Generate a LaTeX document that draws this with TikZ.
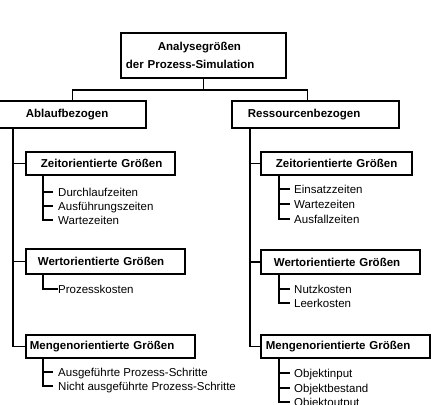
\documentclass[tikz,border=0pt]{standalone}
\usepackage{fontspec}
\setmainfont{Liberation Sans}
\usepackage{tikz}
\usetikzlibrary{calc}

\begin{document}
\begin{tikzpicture}[
    x=1pt, y=-1pt,
    font=\fontsize{11.5}{14}\selectfont,
    box/.style={draw, line width=1.8pt, anchor=north west, inner xsep=0pt,
                inner ysep=0pt, minimum height=23pt, align=left,
                font=\fontsize{11.5}{14}\selectfont\bfseries},
    item/.style={anchor=west, inner sep=0pt, text height=8.2pt, text depth=0pt},
    conn/.style={line width=1.8pt}
    ]
    \useasboundingbox (0,0) rectangle (432,405);
    \clip (0,0) rectangle (432,405);

    \node[box, text width=165pt, minimum height=45pt] (top) at (120,32)
      {\hspace*{37pt}Analysegrößen\\[4pt]\hspace*{5pt}der Prozess-Simulation};
    \node[box, text width=147pt, minimum height=27pt] (abl) at (-2,100)
      {\hspace*{27pt}Ablaufbezogen};
    \node[box, text width=167pt, minimum height=27pt] (res) at (231,100)
      {\hspace*{16pt}Ressourcenbezogen};

    % Ablaufbezogen
    \node[box, text width=149pt] (zl) at (25,151) {\hspace*{15pt}Zeitorientierte Größen};
    \node[box, text width=159pt, minimum height=25pt] (wl) at (25,248) {\hspace*{12pt}Wertorientierte Größen};
    \node[box, text width=169pt] (ml) at (25,334) {\hspace*{4pt}Mengenorientierte Größen};
    \node[item] (d1) at (58,192) {Durchlaufzeiten};
    \node[item] (d2) at (58,206) {Ausführungszeiten};
    \node[item] (d3) at (58,220) {Wartezeiten};
    \node[item] (p1) at (58,289) {Prozesskosten};
    \node[item] (a1) at (58,372) {Ausgeführte Prozess-Schritte};
    \node[item] (a2) at (58,386) {Nicht ausgeführte Prozess-Schritte};

    % Ressourcenbezogen
    \node[box, text width=151pt] (zr) at (260,151) {\hspace*{15pt}Zeitorientierte Größen};
    \node[box, text width=159pt, minimum height=24pt] (wr) at (260,249) {\hspace*{13pt}Wertorientierte Größen};
    \node[box, text width=169pt] (mr) at (260,334) {\hspace*{5pt}Mengenorientierte Größen};
    \node[item] (e1) at (294,189) {Einsatzzeiten};
    \node[item] (e2) at (294,204) {Wartezeiten};
    \node[item] (e3) at (294,219) {Ausfallzeiten};
    \node[item] (n1) at (294,289) {Nutzkosten};
    \node[item] (n2) at (294,303) {Leerkosten};
    \node[item] (o1) at (294,373) {Objektinput};
    \node[item] (o2) at (294,388) {Objektbestand};
    \node[item] (o3) at (294,402) {Objektoutput};

    \coordinate (split) at ($(top.south)+(0,11)$);
    \draw[conn] (top.south) -- (split) -| (abl.north);
    \draw[conn] (split) -| ([xshift=-8pt]res.north);

    \foreach \b in {zl, wl, ml}
      \draw[conn] ([xshift=15pt]abl.south west) |- (\b.west);
    \foreach \b in {zr, wr, mr}
      \draw[conn] ([xshift=19pt]res.south west) |- (\b.west);

    \foreach \b/\i in {zl/d1, zl/d2, zl/d3, ml/a1, ml/a2}
      \draw[conn] ([xshift=18pt]\b.south west) |- ([xshift=-5pt]\i.west);
    \draw[conn] ([xshift=18pt]wl.south west) |- (p1.west);
    \foreach \b/\i in {zr/e1, zr/e2, zr/e3, wr/n1, wr/n2, mr/o1, mr/o2, mr/o3}
      \draw[conn] ([xshift=19pt]\b.south west) |- ([xshift=-4pt]\i.west);
\end{tikzpicture}
\end{document}
